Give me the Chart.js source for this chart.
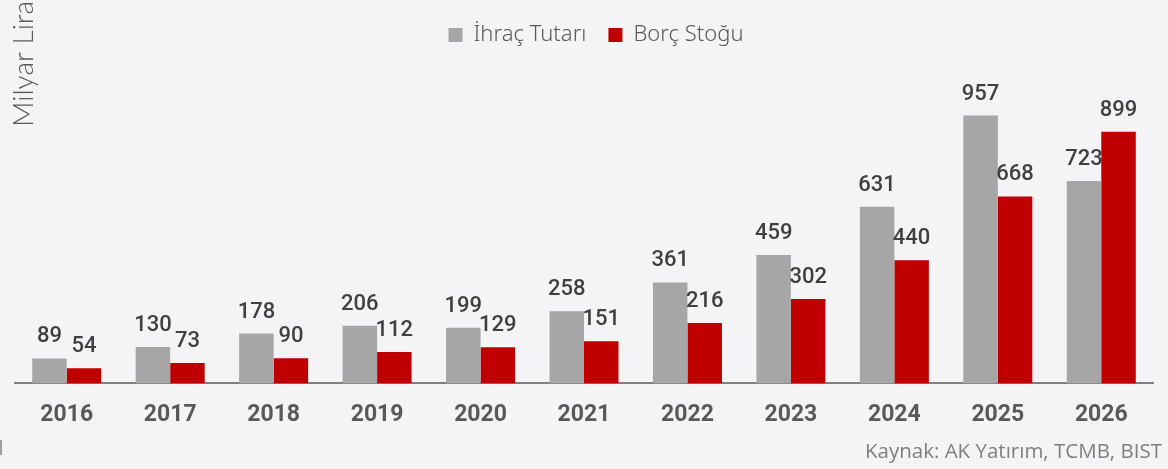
<!DOCTYPE html>
<html>
<head>
<meta charset="utf-8">
<script src="https://cdn.jsdelivr.net/npm/chart.js@4"></script>
<style>
  html, body { margin: 0; padding: 0; background: #f4f4f6; }
  #wrap { width: 1168px; height: 469px; position: relative; }
</style>
</head>
<body>
<div id="wrap"><canvas id="chart"></canvas></div>
<script>
const years = ["2016", "2017", "2018", "2019", "2020", "2021", "2022", "2023", "2024", "2025", "2026"];
const ihracTutari = [89, 130, 178, 206, 199, 258, 361, 459, 631, 957, 723];
const borcStogu = [54, 73, 90, 112, 129, 151, 216, 302, 440, 668, 899];

// value labels, y title, source line
const extras = {
  id: "extras",
  afterLayout(chart) {
    // legend sits a little right of centre in the original
    chart.legend.left += 12;
    chart.legend.right += 12;
  },
  afterDatasetsDraw(chart) {
    const ctx = chart.ctx;
    ctx.save();
    ctx.font = "500 22px Roboto";
    ctx.fillStyle = "#404040";
    ctx.textAlign = "center";
    ctx.textBaseline = "alphabetic";
    chart.data.datasets.forEach((ds, i) => {
      chart.getDatasetMeta(i).data.forEach((bar, j) => {
        ctx.fillText(ds.data[j], bar.x, bar.y - 16);
      });
    });

    ctx.save();
    ctx.translate(33, 127);
    ctx.rotate(-Math.PI / 2);
    ctx.textAlign = "left";
    ctx.font = "300 28px Lato";
    ctx.fillStyle = "#595959";
    ctx.fillText("Milyar Lira", 0, 0);
    ctx.restore();

    ctx.textAlign = "right";
    ctx.font = "20.5px 'Open Sans'";
    ctx.fillStyle = "#7f7f7f";
    ctx.fillText("Kaynak: AK Yatırım, TCMB, BIST", 1162, 458);

    ctx.fillStyle = "#a0a0a0";
    ctx.fillRect(0, 440, 2, 15);
    ctx.restore();
  }
};

new Chart(document.getElementById("chart"), {
  type: "bar",
  data: {
    labels: years,
    datasets: [
      { label: "İhraç Tutarı", data: ihracTutari, backgroundColor: "#a6a6a6", borderWidth: 0 },
      { label: "Borç Stoğu", data: borcStogu, backgroundColor: "#c00000", borderWidth: 0 }
    ]
  },
  options: {
    responsive: true,
    maintainAspectRatio: false,
    animation: false,
    layout: { padding: { left: 15, right: 15, top: 2, bottom: 30 } },
    datasets: { bar: { barPercentage: 1, categoryPercentage: 0.667 } },
    plugins: {
      legend: {
        position: "top",
        labels: {
          boxWidth: 14,
          boxHeight: 14,
          padding: 22,
          color: "#595959",
          font: { family: "'Noto Sans'", size: 22, weight: "300" }
        }
      },
      tooltip: { enabled: false }
    },
    scales: {
      x: {
        grid: { display: false },
        border: { display: true, color: "#808080", width: 2 },
        ticks: {
          padding: 10,
          color: "#595959",
          font: { family: "Roboto", size: 23, weight: "bold" }
        }
      },
      y: {
        display: false,
        min: 0,
        max: 1170
      }
    }
  },
  plugins: [extras]
});
</script>
</body>
</html>
